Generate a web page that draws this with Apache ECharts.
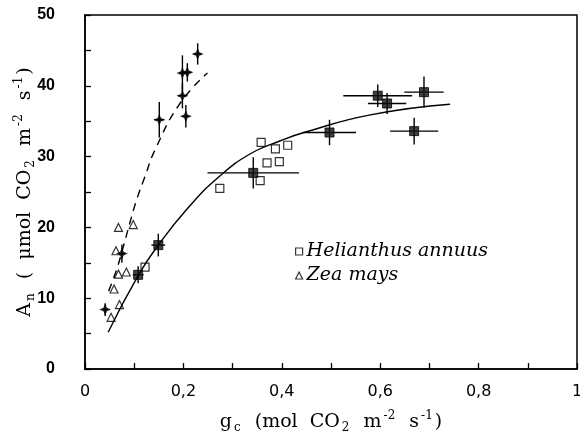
<!DOCTYPE html>
<html>
<head>
<meta charset="utf-8">
<script src="https://cdn.jsdelivr.net/npm/echarts@6/dist/echarts.min.js"></script>
<style>
  html, body { margin: 0; padding: 0; background: #fff; }
  #chart { width: 580px; height: 435px; }
</style>
</head>
<body>
<div id="chart"></div>
<script>
// open symbols: single leaves [gc, An]
const heliLeaves = [
  [0.122, 14.4], [0.274, 25.5], [0.358, 32.0], [0.387, 31.1],
  [0.412, 31.6], [0.370, 29.1], [0.395, 29.3], [0.356, 26.6]
]
const zeaLeaves = [
  [0.068, 20.0], [0.098, 20.4], [0.063, 16.7], [0.068, 13.4],
  [0.084, 13.7], [0.059, 11.3], [0.070, 9.1], [0.053, 7.3]
]
// filled symbols: means [gc, An, gc error, An error]
const heliMeans = [
  [0.108, 13.3, 0.011, 1.2], [0.149, 17.5, 0.014, 1.6],
  [0.342, 27.7, 0.093, 2.2], [0.497, 33.4, 0.054, 1.8],
  [0.595, 38.6, 0.070, 1.6], [0.614, 37.5, 0.039, 1.5],
  [0.689, 39.1, 0.040, 2.2], [0.669, 33.6, 0.049, 1.9]
]
const zeaMeans = [
  [0.041, 8.4, 0.006, 0.9], [0.075, 16.3, 0.006, 1.3],
  [0.151, 35.2, 0.010, 2.5], [0.198, 38.6, 0.008, 1.8],
  [0.205, 35.7, 0.007, 1.6], [0.198, 41.8, 0.007, 2.5],
  [0.208, 41.9, 0.008, 1.3], [0.229, 44.5, 0.008, 1.5]
]
// fitted curves
const heliCurve = [
  [0.047, 5.2], [0.108, 13.2], [0.149, 17.5], [0.210, 22.8], [0.270, 27.0],
  [0.336, 30.4], [0.396, 32.2], [0.445, 33.4], [0.580, 35.9], [0.742, 37.4]
]
const zeaCurve = [
  [0.048, 11.0], [0.064, 14.0], [0.078, 17.3], [0.091, 20.6], [0.105, 23.9],
  [0.122, 27.2], [0.142, 30.9], [0.193, 37.5], [0.249, 41.8]
]

const star = 'path://M0,-6 L1.8,-1.8 L6,0 L1.8,1.8 L0,6 L-1.8,1.8 L-6,0 L-1.8,-1.8 Z'

function errorBars (params, api) {
  const x = api.value(0)
  const y = api.value(1)
  const dx = api.value(2)
  const dy = api.value(3)
  const l = api.coord([x - dx, y])
  const r = api.coord([x + dx, y])
  const t = api.coord([x, y + dy])
  const b = api.coord([x, y - dy])
  const style = { stroke: '#000', lineWidth: 1.4 }
  return {
    type: 'group',
    children: [
      { type: 'line', shape: { x1: l[0], y1: l[1], x2: r[0], y2: r[1] }, style: style },
      { type: 'line', shape: { x1: t[0], y1: t[1], x2: b[0], y2: b[1] }, style: style }
    ]
  }
}

const rich = {
  t: { fontFamily: 'DejaVu Serif', fontSize: 19, color: '#000', lineHeight: 24, verticalAlign: 'middle' },
  sub: { fontFamily: 'DejaVu Serif', fontSize: 12, color: '#000', lineHeight: 24, verticalAlign: 'bottom', padding: [0, 2, 0, 2] },
  sup: { fontFamily: 'DejaVu Serif', fontSize: 12, color: '#000', lineHeight: 24, verticalAlign: 'top', padding: [0, 2, 0, 2] }
}
const openStyle = { color: '#fff', borderColor: '#000', borderWidth: 1.2 }

const chart = echarts.init(document.getElementById('chart'))
chart.setOption({
  animation: false,
  backgroundColor: '#fff',
  grid: {
    left: 85, right: 3, top: 15, bottom: 66,
    outerBoundsMode: 'none',
    show: true, borderColor: '#000', borderWidth: 1.5
  },
  legend: {
    orient: 'vertical',
    left: 290,
    top: 237,
    itemGap: 5,
    itemWidth: 7,
    itemHeight: 7,
    data: [
      { name: 'Helianthus annuus', icon: 'rect', itemStyle: openStyle },
      { name: 'Zea mays', icon: 'triangle', itemStyle: openStyle }
    ],
    textStyle: { fontFamily: 'DejaVu Serif', fontStyle: 'italic', fontSize: 19, color: '#000', padding: [0, 0, 0, -1] }
  },
  xAxis: {
    type: 'value',
    min: 0,
    max: 1,
    interval: 0.2,
    splitLine: { show: false },
    axisLine: { lineStyle: { color: '#000', width: 1.5 } },
    axisTick: { inside: true, length: 6, lineStyle: { color: '#000', width: 1.3 } },
    minorTick: { show: true, splitNumber: 2, length: 6, lineStyle: { color: '#000', width: 1.3 } },
    axisLabel: {
      margin: 15,
      color: '#000',
      fontFamily: 'DejaVu Sans',
      fontSize: 16,
      formatter: v => String(Math.round(v * 10) / 10).replace('.', ',')
    },
    name: '{t|g}{sub|c}{t|  (mol  CO}{sub|2}{t|  m}{sup|-2}{t|  s}{sup|-1}{t|)}',
    nameLocation: 'middle',
    nameGap: 41,
    nameTextStyle: { rich: rich }
  },
  yAxis: {
    type: 'value',
    min: 0,
    max: 50,
    interval: 10,
    splitLine: { show: false },
    axisLine: { lineStyle: { color: '#000', width: 1.5 } },
    axisTick: { inside: true, length: 6, lineStyle: { color: '#000', width: 1.3 } },
    minorTick: { show: true, splitNumber: 2, length: 6, lineStyle: { color: '#000', width: 1.3 } },
    axisLabel: { margin: 30, color: '#000', fontFamily: 'Liberation Sans', fontWeight: 'bold', fontSize: 16 },
    name: '{t|A}{sub|n}{t|  (  μmol  CO}{sub|2}{t|  m}{sup|-2}{t|  s}{sup|-1}{t|)}',
    nameLocation: 'middle',
    nameRotate: 90,
    nameGap: 48,
    nameMoveOverlap: false,
    nameTextStyle: { rich: rich }
  },
  series: [
    {
      name: 'heliFit',
      type: 'line',
      data: heliCurve,
      smooth: 0.5,
      symbol: 'none',
      lineStyle: { color: '#000', width: 1.4 }
    },
    {
      name: 'zeaFit',
      type: 'line',
      data: zeaCurve,
      smooth: 0.5,
      symbol: 'none',
      lineStyle: { color: '#000', width: 1.4, type: [8, 6] }
    },
    {
      name: 'heliErr',
      type: 'custom',
      renderItem: errorBars,
      encode: { x: 0, y: 1 },
      data: heliMeans
    },
    {
      name: 'zeaErr',
      type: 'custom',
      renderItem: errorBars,
      encode: { x: 0, y: 1 },
      data: zeaMeans
    },
    {
      name: 'Helianthus annuus',
      type: 'scatter',
      symbol: 'rect',
      symbolSize: 8,
      data: heliLeaves,
      itemStyle: openStyle
    },
    {
      name: 'Zea mays',
      type: 'scatter',
      symbol: 'triangle',
      symbolSize: 8,
      data: zeaLeaves,
      itemStyle: openStyle
    },
    {
      name: 'heliMean',
      type: 'scatter',
      symbol: 'rect',
      symbolSize: 9,
      data: heliMeans,
      itemStyle: { color: '#111', borderColor: '#000', borderWidth: 1 }
    },
    {
      name: 'zeaMean',
      type: 'scatter',
      symbol: star,
      symbolSize: 12,
      data: zeaMeans,
      itemStyle: { color: '#000' }
    }
  ]
})
</script>
</body>
</html>
